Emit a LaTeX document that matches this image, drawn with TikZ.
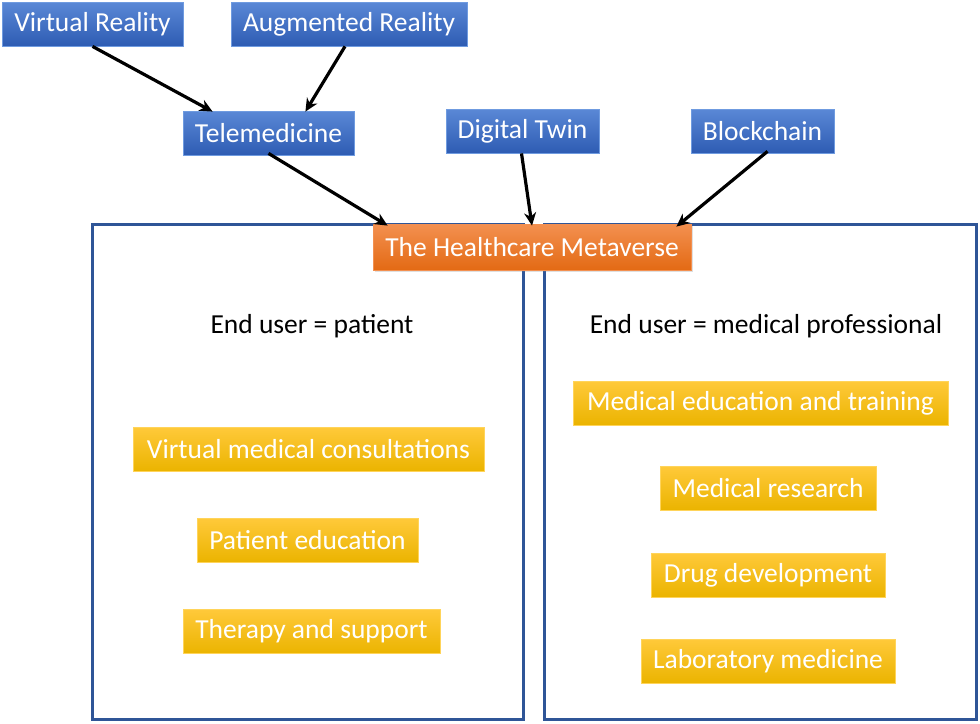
\documentclass[tikz,border=0pt]{standalone}
\usepackage{fontspec}
\setmainfont{Carlito}
\usetikzlibrary{arrows.meta,shadows}
\definecolor{bluetop}{HTML}{5A88D6}
\definecolor{bluebot}{HTML}{2E5CB3}
\definecolor{blueedge}{HTML}{6F9BE0}
\definecolor{orgtop}{HTML}{F39050}
\definecolor{orgbot}{HTML}{E36A14}
\definecolor{yeltop}{HTML}{FFC93A}
\definecolor{yelbot}{HTML}{EBB400}
\definecolor{yeledge}{HTML}{FFD45A}
\definecolor{panelc}{HTML}{2F5597}
\tikzset{
  boxbase/.style={rectangle, inner sep=0pt, text=white, font=\fontsize{27.5}{30}\selectfont},
  bluebox/.style={boxbase, top color=bluetop, bottom color=bluebot, draw=blueedge, line width=0.8pt, minimum height=44pt},
  orgbox/.style={boxbase, top color=orgtop, bottom color=orgbot, draw=orgtop, line width=0.8pt, minimum height=46pt, drop shadow={opacity=0.25, shadow xshift=1.5pt, shadow yshift=-2pt}},
  yelbox/.style={boxbase, top color=yeltop, bottom color=yelbot, draw=yeledge, line width=0.8pt, minimum height=44pt},
  panel/.style={rectangle, draw=panelc, line width=3pt, inner sep=0pt},
  lbl/.style={font=\fontsize{27.5}{30}\selectfont, text=black, inner sep=0pt},
  arr/.style={-{Stealth[length=13pt,width=12pt]}, line width=3.2pt, black}
}
\begin{document}
\begin{tikzpicture}[x=1pt,y=-1pt]
\useasboundingbox (0,0) rectangle (980,723);
\fill[white] (0,0) rectangle (980,723);
% panels
\node[panel, minimum width=431pt, minimum height=495pt] (lp) at (307.5,471.5) {};
\node[panel, minimum width=432pt, minimum height=495pt] (rp) at (760,471.5) {};
% top boxes
\node[bluebox, minimum width=181pt] (vr) at (92.5,24) {Virtual Reality};
\node[bluebox, minimum width=236pt] (ar) at (349,24) {Augmented Reality};
\node[bluebox, minimum width=171pt] (tele) at (268.5,133) {Telemedicine};
\node[bluebox, minimum width=153pt] (dt) at (522.5,131) {Digital Twin};
\node[bluebox, minimum width=143pt] (bc) at (762.5,131) {Blockchain};
% central
\node[orgbox, minimum width=318pt] (hm) at (532,247) {The Healthcare Metaverse};
% labels
\node[lbl] (eup) at (312,326) {End user = patient};
\node[lbl] (eum) at (766,326) {End user = medical professional};
% left yellow
\node[yelbox, minimum width=351pt] (vmc) at (308.5,449) {Virtual medical consultations};
\node[yelbox, minimum width=221pt] (pe) at (307.5,540) {Patient education};
\node[yelbox, minimum width=257pt] (ts) at (311.5,631.5) {Therapy and support};
% right yellow
\node[yelbox, minimum width=375pt] (met) at (760.5,403) {Medical education and training};
\node[yelbox, minimum width=216pt] (mr) at (768,488) {Medical research};
\node[yelbox, minimum width=234pt] (dd) at (768,575) {Drug development};
\node[yelbox, minimum width=254pt] (lm) at (768,661) {Laboratory medicine};
% arrows
\draw[arr] (vr.south) -- ([xshift=30pt,yshift=-1pt]tele.north west);
\draw[arr] ([xshift=-4pt]ar.south) -- ([xshift=-49pt,yshift=-1pt]tele.north east);
\draw[arr] ([yshift=2pt]tele.south) -- ([xshift=15pt,yshift=-2pt]hm.north west);
\draw[arr] ([xshift=-1pt]dt.south) -- ([yshift=-2pt]hm.north);
\draw[arr] ([xshift=5pt,yshift=2pt]bc.south) -- ([xshift=-15pt,yshift=-3pt]hm.north east);
\end{tikzpicture}
\end{document}
